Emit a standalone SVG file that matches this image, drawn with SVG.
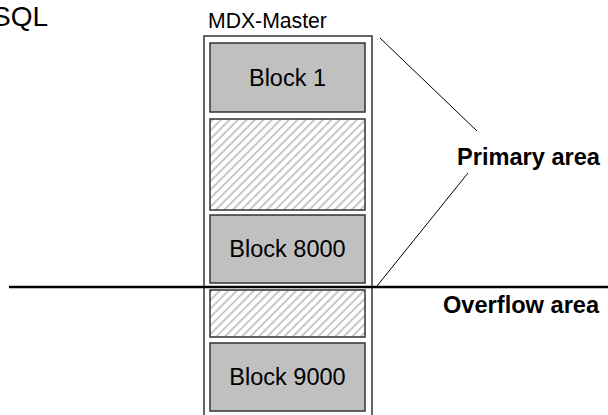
<svg xmlns="http://www.w3.org/2000/svg" width="608" height="415" viewBox="0 0 608 415">
<style>
.t{font-family:"Liberation Sans",Arial,sans-serif;fill:#000}
.b{font-weight:bold}
.blk{fill:#c0c0c0;stroke:#333;stroke-width:1.5}
.hat{fill:url(#hatch);stroke:#333;stroke-width:1.5}
.ln{stroke:#000;stroke-width:1;fill:none}
</style>
<defs>
<pattern id="hatch" patternUnits="userSpaceOnUse" width="6" height="6" patternTransform="rotate(45)">
<rect width="6" height="6" fill="#fff"/>
<rect x="0" y="0" width="2" height="6" fill="#c8c8c8"/>
</pattern>
</defs>
<text class="t" x="-8" y="26" font-size="28">SQL</text>
<g id="master">
<text class="t" x="208" y="28" font-size="21.2">MDX-Master</text>
<rect x="204" y="36" width="168" height="390" fill="#fff" stroke="#333" stroke-width="1.5"/>
</g>
<g id="block1">
<rect class="blk" x="210" y="43" width="155" height="69"/>
<text class="t" x="287.5" y="86" font-size="23.5" text-anchor="middle">Block 1</text>
</g>
<g id="free1"><rect class="hat" x="210" y="119" width="155" height="91"/></g>
<g id="block8000">
<rect class="blk" x="210" y="215" width="155" height="68"/>
<text class="t" x="287.5" y="257" font-size="23.5" text-anchor="middle">Block 8000</text>
</g>
<g id="free2"><rect class="hat" x="210" y="290" width="155" height="47"/></g>
<g id="block9000">
<rect class="blk" x="210" y="343" width="155" height="68"/>
<text class="t" x="287.5" y="385" font-size="23.5" text-anchor="middle">Block 9000</text>
</g>
<g id="connectors">
<line x1="9" y1="287" x2="608" y2="287" stroke="#000" stroke-width="2.5"/>
<line class="ln" x1="380" y1="38" x2="477" y2="131"/>
<line class="ln" x1="468" y1="173" x2="377" y2="286"/>
</g>
<g id="labels">
<text class="t b" x="457" y="165" font-size="23.6">Primary area</text>
<text class="t b" x="443" y="313" font-size="23.6">Overflow area</text>
</g>
</svg>
